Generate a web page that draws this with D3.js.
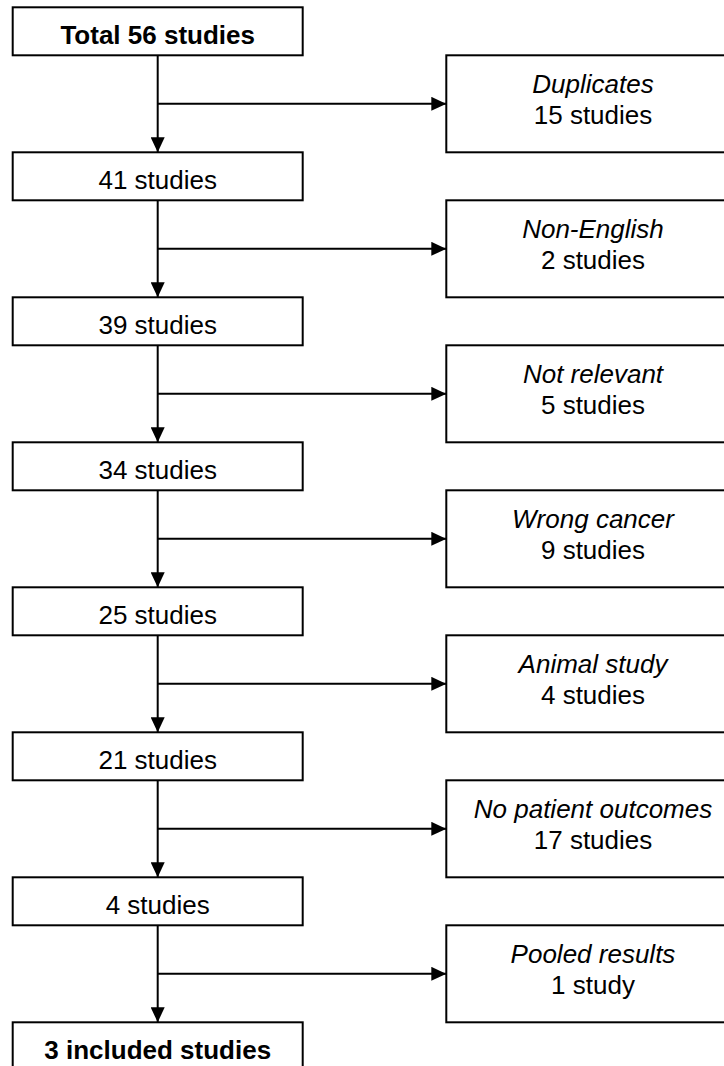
<!DOCTYPE html>
<html>
<head>
<meta charset="utf-8">
<script src="https://cdn.jsdelivr.net/npm/d3@7/dist/d3.min.js"></script>
<style>
  html, body { margin: 0; padding: 0; background: #fff; }
  svg { display: block; }
  text { font-family: "Liberation Sans", Arial, Helvetica, sans-serif; fill: #000; }
</style>
</head>
<body>
<svg id="chart" width="724" height="1066"></svg>
<script>
// ---- data ----
const stageLabels = ["Total 56 studies", "41 studies", "39 studies", "34 studies",
                     "25 studies", "21 studies", "4 studies", "3 included studies"];
const stageCounts = [56, 41, 39, 34, 25, 21, 4, 3];
const exclusionReasons = ["Duplicates", "Non-English", "Not relevant", "Wrong cancer",
                          "Animal study", "No patient outcomes", "Pooled results"];
const exclusionLabels = ["15 studies", "2 studies", "5 studies", "9 studies",
                         "4 studies", "17 studies", "1 study"];
const exclusionCounts = [15, 2, 5, 9, 4, 17, 1];
const boldStages = [0, 7];

// ---- layout ----
const svg = d3.select("#chart");
const W = 724, H = 1066;
svg.append("rect").attr("width", W).attr("height", H).attr("fill", "#fff");

const y = d3.scaleLinear().domain([0, stageLabels.length - 1]).range([7.3, 1022.3]);
const boxH = 48;
const leftX0 = 12.7, leftX1 = 302.7;
const cx = (leftX0 + leftX1) / 2;
const rightX0 = 446.3, rightX1 = 740;
const rcx = 593;

// arrowhead markers
const defs = svg.append("defs");
defs.append("marker")
  .attr("id", "arr")
  .attr("viewBox", "0 0 15 14")
  .attr("refX", 15).attr("refY", 7)
  .attr("markerWidth", 15).attr("markerHeight", 14)
  .attr("markerUnits", "userSpaceOnUse")
  .attr("orient", "auto")
  .append("path").attr("d", "M0,0 L15,7 L0,14 Z").attr("fill", "#000");

const gLines = svg.append("g");
const steps = d3.range(stageLabels.length - 1);

// vertical arrows between stage boxes
gLines.selectAll("line.v").data(steps).join("line")
  .attr("class", "v")
  .attr("x1", cx).attr("x2", cx)
  .attr("y1", i => y(i) + boxH)
  .attr("y2", i => y(i + 1))
  .attr("stroke", "#000").attr("stroke-width", 2)
  .attr("marker-end", "url(#arr)");

// horizontal arrows to exclusion boxes
gLines.selectAll("line.h").data(steps).join("line")
  .attr("class", "h")
  .attr("x1", cx).attr("x2", rightX0)
  .attr("y1", i => (y(i) + boxH + y(i + 1)) / 2)
  .attr("y2", i => (y(i) + boxH + y(i + 1)) / 2)
  .attr("stroke", "#000").attr("stroke-width", 2)
  .attr("marker-end", "url(#arr)");

// stage boxes
const gStage = svg.append("g").selectAll("g").data(stageLabels).join("g");
gStage.append("rect")
  .attr("x", leftX0).attr("y", (d, i) => y(i))
  .attr("width", leftX1 - leftX0).attr("height", boxH)
  .attr("fill", "#fff").attr("stroke", "#000").attr("stroke-width", 2);
gStage.append("text")
  .attr("x", cx).attr("y", (d, i) => y(i) + boxH / 2 + 12.5)
  .attr("text-anchor", "middle")
  .attr("font-size", 26)
  .attr("font-weight", (d, i) => boldStages.includes(i) ? "bold" : "normal")
  .text(d => d);

// exclusion boxes
const gEx = svg.append("g").selectAll("g").data(exclusionReasons).join("g");
gEx.append("rect")
  .attr("x", rightX0).attr("y", (d, i) => y(i) + boxH)
  .attr("width", rightX1 - rightX0).attr("height", (d, i) => y(i + 1) - y(i) - boxH)
  .attr("fill", "#fff").attr("stroke", "#000").attr("stroke-width", 2);
gEx.append("text")
  .attr("x", rcx).attr("y", (d, i) => (y(i) + boxH + y(i + 1)) / 2 - 10.7)
  .attr("text-anchor", "middle")
  .attr("font-size", 26).attr("font-style", "italic")
  .text(d => d);
gEx.append("text")
  .attr("x", rcx).attr("y", (d, i) => (y(i) + boxH + y(i + 1)) / 2 + 20)
  .attr("text-anchor", "middle")
  .attr("font-size", 26)
  .text((d, i) => exclusionLabels[i]);
</script>
</body>
</html>
